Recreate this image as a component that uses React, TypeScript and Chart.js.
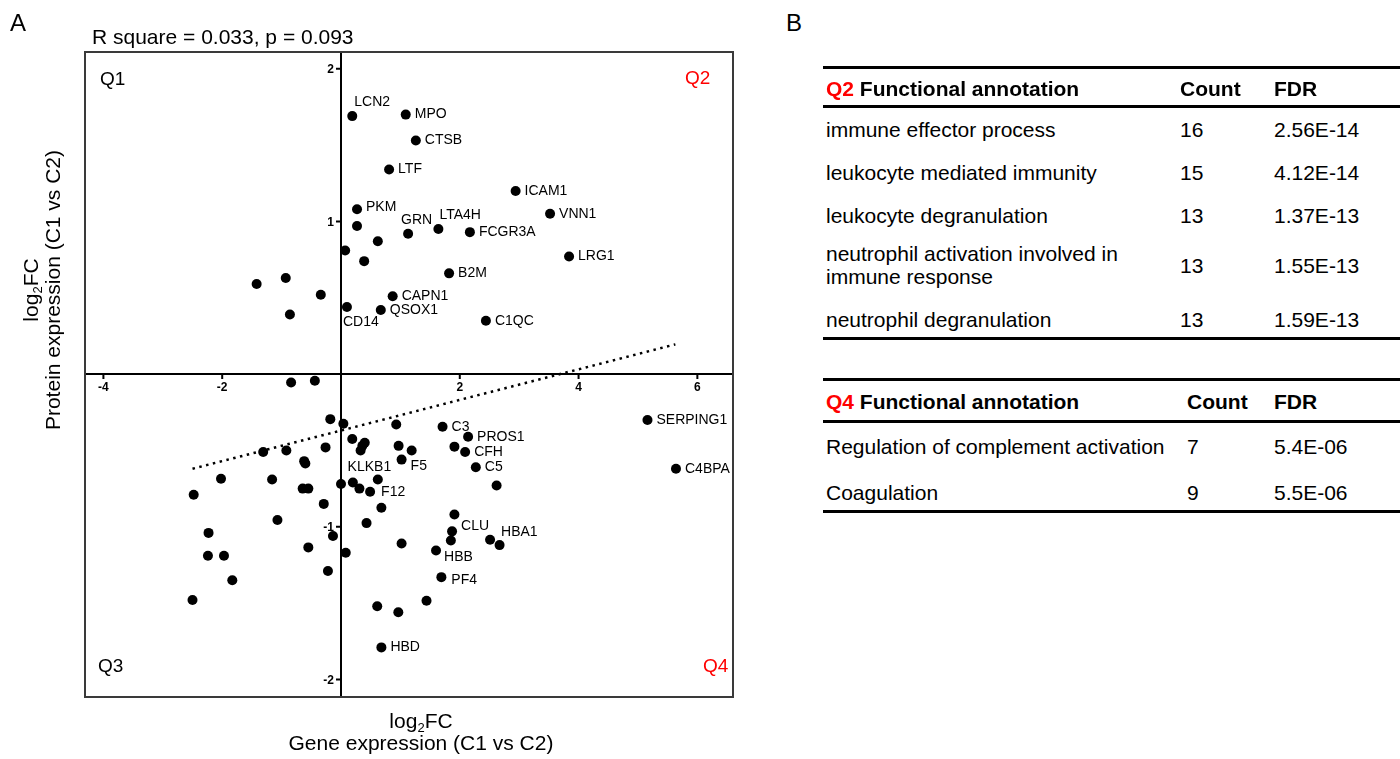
import React, { useEffect, useRef } from "react";
import { Chart, registerables } from "chart.js";

Chart.register(...registerables);

// ---------- data ----------
const GENE_FC = [
  0.19, 1.09, 1.26, 0.81, 2.94, 0.27, 3.52, 0.27, 1.13, 1.64, 2.17, 0.62, 0.07, 3.84, 0.39, 1.82,
  -1.42, -0.93, -0.34, 0.87, 0.10, 0.67, -0.86, 2.44,
  -0.84, -0.44, -0.18, 0.04, 0.93, 5.16, 1.71, 2.14, 0.19, 0.40, 0.36, 0.33, 0.97, 1.91, -0.26,
  -0.92, -1.31, 1.19, 2.09, 1.02, -0.62, -0.60, 2.27, 5.64, -2.02, -1.16, 0.62, 0.20, 0.0, 2.62,
  -0.645, -0.55, 0.31, 0.49, -2.48, -0.29, 0.68, 1.91, -1.07, 0.43, 1.87, -2.23, -0.135, 2.51,
  1.85, 1.02, 2.67, -0.55, 1.60, 0.08, -2.24, -1.97, -0.22, 1.69, -1.83, -2.50, 1.44, 0.61, 0.965, 0.68,
];
const PROTEIN_FC = [
  1.69, 1.70, 1.53, 1.34, 1.20, 1.08, 1.05, 0.97, 0.92, 0.95, 0.93, 0.87, 0.81, 0.77, 0.74, 0.66,
  0.59, 0.63, 0.52, 0.51, 0.44, 0.42, 0.39, 0.35,
  -0.055, -0.044, -0.295, -0.325, -0.33, -0.30, -0.345, -0.41, -0.425, -0.45, -0.47, -0.50, -0.47, -0.475, -0.48,
  -0.50, -0.51, -0.50, -0.51, -0.56, -0.57, -0.585, -0.61, -0.62, -0.685, -0.69, -0.69, -0.71, -0.72, -0.73,
  -0.75, -0.75, -0.75, -0.77, -0.79, -0.85, -0.875, -0.92, -0.955, -0.976, -1.03, -1.04, -1.06, -1.085,
  -1.09, -1.11, -1.12, -1.135, -1.155, -1.17, -1.19, -1.19, -1.29, -1.33, -1.35, -1.48, -1.485, -1.52, -1.56, -1.79,
];
const GENE_NAMES = [
  "LCN2", "MPO", "CTSB", "LTF", "ICAM1", "PKM", "VNN1", "", "GRN", "LTA4H", "FCGR3A", "", "", "LRG1", "", "B2M",
  "", "", "", "CAPN1", "CD14", "QSOX1", "", "C1QC",
  "", "", "", "", "", "SERPING1", "C3", "PROS1", "", "", "", "KLKB1", "", "", "",
  "", "", "", "CFH", "F5", "", "", "C5", "C4BPA", "", "", "", "", "", "",
  "", "", "", "F12", "", "", "", "", "", "", "CLU", "", "", "HBA1",
  "", "", "", "", "HBB", "", "", "", "", "PF4", "", "", "", "", "", "HBD",
];
const FIT_X = [-2.5, 5.63];
const FIT_Y = [-0.62, 0.195];
const X_TICKS = [-4, -2, 2, 4, 6];
const Y_TICKS = [-2, -1, 1, 2];
const X_MIN = -4.31;
const X_MAX = 6.6;
const Y_MIN = -2.115;
const Y_MAX = 2.11;
const STATS_TITLE = "R square = 0.033, p = 0.093";

const Q2_ROWS = [
  ["immune effector process", "16", "2.56E-14"],
  ["leukocyte mediated immunity", "15", "4.12E-14"],
  ["leukocyte degranulation", "13", "1.37E-13"],
  ["neutrophil activation involved in\nimmune response", "13", "1.55E-13"],
  ["neutrophil degranulation", "13", "1.59E-13"],
];
const Q4_ROWS = [
  ["Regulation of complement activation", "7", "5.4E-06"],
  ["Coagulation", "9", "5.5E-06"],
];

// ---------- styles ----------
const FONT = "'Liberation Sans', Arial, Helvetica, sans-serif";
const RED = "#ff0000";
const TICK_FONT = `bold 12px ${FONT}`;
// label offset (px) from point centre to text left/middle
const LABEL_OFFSETS: Record<string, [number, number]> = {
  LCN2: [2, -14],
  GRN: [-7, -14],
  LTA4H: [1, -14],
  PKM: [9, -2],
  CD14: [-4, 15],
  KLKB1: [-13, 17],
  F5: [9, 7],
  F12: [11, 0],
  CLU: [9, -5],
  HBA1: [11, -8],
  HBB: [8, 7],
  PF4: [10, 3],
};

const boxPlugin = {
  id: "boxPlugin",
  afterDraw(chart: any) {
    const { ctx, chartArea } = chart;
    ctx.save();
    ctx.strokeStyle = "#3a3a3a";
    ctx.lineWidth = 2;
    ctx.strokeRect(chartArea.left, chartArea.top, chartArea.right - chartArea.left, chartArea.bottom - chartArea.top);
    ctx.restore();
  },
};

// tick marks on both crossing axes + y tick labels (left of the y axis)
const tickPlugin = {
  id: "tickPlugin",
  afterDraw(chart: any) {
    const { ctx } = chart;
    const xs = chart.scales.x;
    const ys = chart.scales.y;
    const x0 = xs.getPixelForValue(0);
    const y0 = ys.getPixelForValue(0);
    ctx.save();
    ctx.strokeStyle = "#000";
    ctx.lineWidth = 2;
    ctx.beginPath();
    X_TICKS.forEach((v) => {
      const px = xs.getPixelForValue(v);
      ctx.moveTo(px, y0);
      ctx.lineTo(px, y0 + 5);
    });
    Y_TICKS.forEach((v) => {
      const py = ys.getPixelForValue(v);
      ctx.moveTo(x0 - 5, py);
      ctx.lineTo(x0, py);
    });
    ctx.stroke();
    ctx.fillStyle = "#000";
    ctx.font = TICK_FONT;
    ctx.textAlign = "right";
    ctx.textBaseline = "middle";
    Y_TICKS.forEach((v) => {
      const py = ys.getPixelForValue(v);
      ctx.fillText(String(v), x0 - 7, py + 1);
    });
    ctx.restore();
  },
};

const labelPlugin = {
  id: "labelPlugin",
  afterDatasetsDraw(chart: any) {
    const { ctx } = chart;
    const meta = chart.getDatasetMeta(0);
    ctx.save();
    ctx.font = `14px ${FONT}`;
    ctx.fillStyle = "#000";
    ctx.textAlign = "left";
    ctx.textBaseline = "middle";
    GENE_NAMES.forEach((name, i) => {
      if (!name) return;
      const el = meta.data[i];
      const off = LABEL_OFFSETS[name] || [9, 0];
      ctx.fillText(name, el.x + off[0], el.y + off[1]);
    });
    ctx.restore();
  },
};

function ScatterChart() {
  const ref = useRef<HTMLCanvasElement | null>(null);
  useEffect(() => {
    if (!ref.current) return;
    const tickFont = { family: FONT, size: 12, weight: "bold" as const };
    const chart = new Chart(ref.current, {
      type: "scatter",
      data: {
        datasets: [
          {
            data: GENE_FC.map((x, i) => ({ x, y: PROTEIN_FC[i] })),
            backgroundColor: "#000",
            borderWidth: 0,
            pointRadius: 5,
            pointHoverRadius: 5,
          },
          {
            data: FIT_X.map((x, i) => ({ x, y: FIT_Y[i] })),
            showLine: true,
            borderColor: "#000",
            borderWidth: 2.5,
            borderDash: [2.5, 4.5],
            pointRadius: 0,
            fill: false,
          } as any,
        ],
      },
      options: {
        animation: false,
        responsive: false,
        maintainAspectRatio: false,
        events: [],
        layout: { padding: { left: 85, top: 52, right: 27, bottom: 62 } },
        plugins: { legend: { display: false }, tooltip: { enabled: false } },
        scales: {
          x: {
            type: "linear",
            min: X_MIN,
            max: X_MAX,
            position: { y: 0 } as any,
            afterBuildTicks: (s: any) => {
              s.ticks = X_TICKS.map((v) => ({ value: v }));
            },
            grid: { display: false, drawOnChartArea: false, tickLength: 5 },
            border: { display: true, color: "#000", width: 2 },
            ticks: { font: tickFont, color: "#000", padding: 1 },
          },
          y: {
            type: "linear",
            min: Y_MIN,
            max: Y_MAX,
            position: { x: 0 } as any,
            afterBuildTicks: (s: any) => {
              s.ticks = Y_TICKS.map((v) => ({ value: v }));
            },
            grid: { display: false, drawOnChartArea: false },
            border: { display: true, color: "#000", width: 2 },
            ticks: { display: false },
          },
        },
      },
      plugins: [boxPlugin, tickPlugin, labelPlugin],
    });
    return () => chart.destroy();
  }, []);
  return (
    <canvas
      ref={ref}
      width={760}
      height={759}
      style={{ position: "absolute", left: 0, top: 0, width: 760, height: 759, display: "block" }}
    />
  );
}

// text positioned by baseline
function Txt(props: {
  x: number;
  y: number;
  size: number;
  children: React.ReactNode;
  bold?: boolean;
  color?: string;
}) {
  const { x, y, size, children, bold, color } = props;
  return (
    <div
      style={{
        position: "absolute",
        left: x,
        top: y - 0.8465 * size,
        fontSize: size,
        lineHeight: 1,
        fontWeight: bold ? "bold" : "normal",
        color: color || "#000",
        whiteSpace: "nowrap",
      }}
    >
      {children}
    </div>
  );
}

const Sub = () => (
  <sub style={{ fontSize: "0.62em", verticalAlign: "-0.28em", lineHeight: 0 }}>2</sub>
);

function Rule({ y, x1, x2 }: { y: number; x1: number; x2: number }) {
  return (
    <div style={{ position: "absolute", left: x1, top: y - 1.5, width: x2 - x1, height: 3, background: "#000" }} />
  );
}

export default function App() {
  const TS = 21;
  const t1 = { top: 67, head: 95.5, headRule: 106, rows: [136.5, 179.5, 222.5, [260.5, 283.5, 272.5], 326.5], bottom: 338 };
  const t2 = { top: 379, head: 408.5, headRule: 421, rows: [453.5, 499.5], bottom: 511 };
  return (
    <div
      style={{
        position: "absolute",
        left: 0,
        top: 0,
        width: 1400,
        height: 759,
        background: "#fff",
        fontFamily: FONT,
        color: "#000",
        overflow: "hidden",
      }}
    >
      <ScatterChart />
      <Txt x={10} y={31} size={24}>A</Txt>
      <Txt x={786} y={31} size={24}>B</Txt>
      <Txt x={92} y={43.3} size={21}>{STATS_TITLE}</Txt>
      <Txt x={100} y={85} size={19}>Q1</Txt>
      <Txt x={685} y={84} size={19} color={RED}>Q2</Txt>
      <Txt x={98} y={672} size={19}>Q3</Txt>
      <Txt x={703} y={672} size={19} color={RED}>Q4</Txt>

      {/* x axis title */}
      <div
        style={{
          position: "absolute",
          left: 421 - 300,
          top: 709.7,
          width: 600,
          textAlign: "center",
          fontSize: 21,
          lineHeight: "22px",
        }}
      >
        <div>log<Sub />FC</div>
        <div>Gene expression (C1 vs C2)</div>
      </div>
      {/* y axis title */}
      <div
        style={{
          position: "absolute",
          left: 41.7 - 200,
          top: 290 - 22,
          width: 400,
          height: 44,
          textAlign: "center",
          fontSize: 21,
          lineHeight: "22px",
          transform: "rotate(-90deg)",
          transformOrigin: "center",
          whiteSpace: "nowrap",
        }}
      >
        <div>log<Sub />FC</div>
        <div>Protein expression (C1 vs C2)</div>
      </div>

      {/* Table Q2 */}
      <Rule y={t1.top} x1={823} x2={1400} />
      <Txt x={826} y={t1.head} size={TS} bold>
        <span style={{ color: RED }}>Q2</span> Functional annotation
      </Txt>
      <Txt x={1180} y={t1.head} size={TS} bold>Count</Txt>
      <Txt x={1274} y={t1.head} size={TS} bold>FDR</Txt>
      <Rule y={t1.headRule} x1={823} x2={1400} />
      {Q2_ROWS.map((r, i) => {
        const pos = t1.rows[i] as any;
        if (Array.isArray(pos)) {
          const lines = r[0].split("\n");
          return (
            <React.Fragment key={i}>
              <Txt x={826} y={pos[0]} size={TS}>{lines[0]}</Txt>
              <Txt x={826} y={pos[1]} size={TS}>{lines[1]}</Txt>
              <Txt x={1180} y={pos[2]} size={TS}>{r[1]}</Txt>
              <Txt x={1274} y={pos[2]} size={TS}>{r[2]}</Txt>
            </React.Fragment>
          );
        }
        return (
          <React.Fragment key={i}>
            <Txt x={826} y={pos} size={TS}>{r[0]}</Txt>
            <Txt x={1180} y={pos} size={TS}>{r[1]}</Txt>
            <Txt x={1274} y={pos} size={TS}>{r[2]}</Txt>
          </React.Fragment>
        );
      })}
      <Rule y={t1.bottom} x1={823} x2={1400} />

      {/* Table Q4 */}
      <Rule y={t2.top} x1={823} x2={1400} />
      <Txt x={826} y={t2.head} size={TS} bold>
        <span style={{ color: RED }}>Q4</span> Functional annotation
      </Txt>
      <Txt x={1187} y={t2.head} size={TS} bold>Count</Txt>
      <Txt x={1274} y={t2.head} size={TS} bold>FDR</Txt>
      <Rule y={t2.headRule} x1={823} x2={1400} />
      {Q4_ROWS.map((r, i) => (
        <React.Fragment key={i}>
          <Txt x={826} y={t2.rows[i]} size={TS}>{r[0]}</Txt>
          <Txt x={1187} y={t2.rows[i]} size={TS}>{r[1]}</Txt>
          <Txt x={1274} y={t2.rows[i]} size={TS}>{r[2]}</Txt>
        </React.Fragment>
      ))}
      <Rule y={t2.bottom} x1={823} x2={1400} />
    </div>
  );
}
